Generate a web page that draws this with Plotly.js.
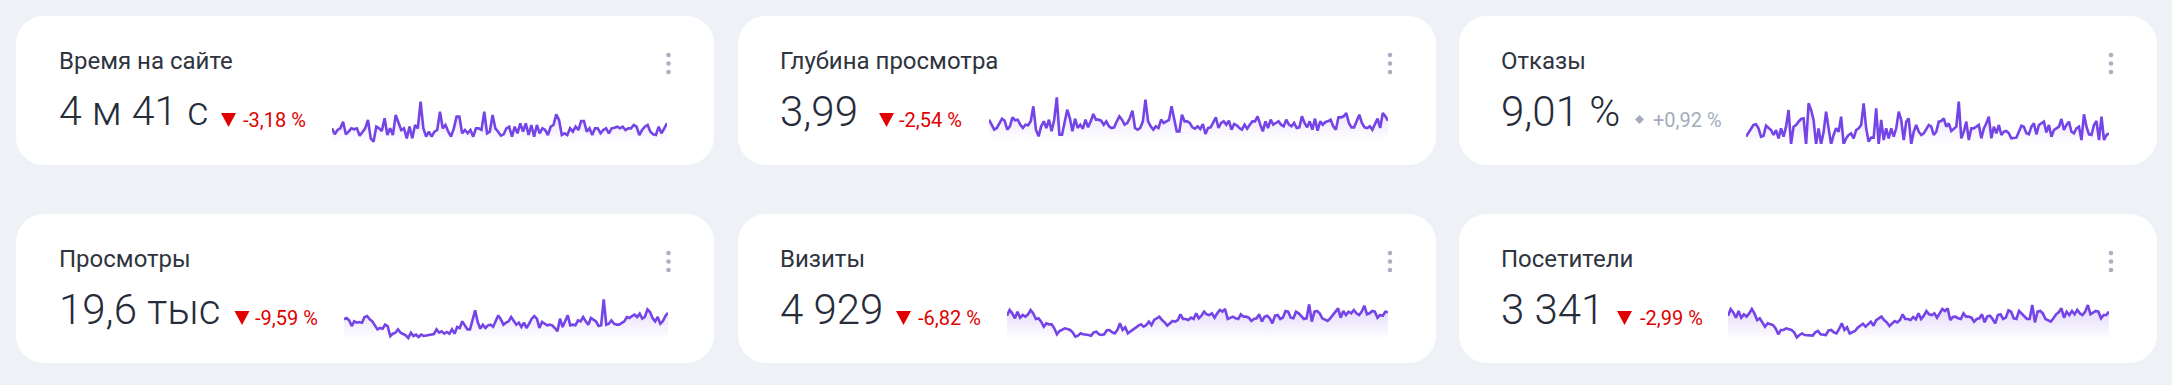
<!DOCTYPE html>
<html><head><meta charset="utf-8">
<script src="https://cdn.plot.ly/plotly-3.0.1.min.js"></script>
<style>html,body{margin:0;padding:0;background:#eef1f6;overflow:hidden}#chart{width:2172px;height:385px}</style>
</head><body><div id="chart"></div>
<script>
// ---------- DATA ----------
const metricNames = ["Время на сайте", "Глубина просмотра", "Отказы", "Просмотры", "Визиты", "Посетители"];
const metricValues = ["4 м 41 с", "3,99", "9,01 %", "19,6 тыс", "4 929", "3 341"];
const metricChanges = ["-3,18 %", "-2,54 %", "+0,92 %", "-9,59 %", "-6,82 %", "-2,99 %"];
const changeDirections = ["down", "down", "flat", "down", "down", "down"];

// time on site, seconds per day
const timeOnSite = [280,244,270,280,320,244,260,280,274,280,236,260,280,330,220,200,290,280,264,340,240,280,240,360,320,270,280,220,290,220,300,280,440,280,230,260,230,260,270,380,280,300,260,230,280,350,350,250,270,250,270,230,280,280,270,380,250,260,360,280,260,236,244,280,290,230,290,250,310,260,310,240,300,230,300,250,280,270,240,290,300,364,330,240,250,240,280,260,290,270,324,324,260,280,240,280,280,250,270,280,250,280,284,290,280,290,270,280,280,300,290,240,270,290,300,260,244,240,290,250,280,310];
// page depth per day
const pageDepth = [4.10,3.80,3.50,3.60,3.90,4.16,4.04,3.50,3.70,4.24,4.06,4.10,3.80,3.60,3.80,3.76,4.00,4.90,3.50,3.10,3.70,4.00,3.60,4.10,3.40,4.10,5.44,3.20,3.20,4.00,4.70,4.20,3.40,4.16,3.60,3.80,3.56,4.10,3.64,4.00,4.44,4.10,4.10,4.04,3.80,4.00,3.70,3.60,3.64,4.00,4.30,4.10,3.80,3.90,4.20,4.64,3.60,3.50,3.60,4.00,5.30,4.00,3.70,3.50,3.70,3.60,4.10,3.90,4.00,4.08,4.90,4.10,3.40,3.40,4.40,4.00,4.00,3.90,3.64,3.56,3.70,3.54,3.84,3.24,3.60,3.64,3.90,4.24,3.60,3.90,4.00,3.80,4.04,3.50,3.84,3.76,3.60,3.50,3.80,3.56,3.80,4.00,4.00,4.30,3.80,3.40,4.00,3.60,4.10,3.80,3.90,4.00,3.80,3.70,4.10,3.80,3.70,3.90,3.60,3.64,4.30,3.90,3.64,4.00,3.50,4.16,3.44,4.00,3.80,3.96,4.00,4.10,3.70,3.50,4.24,4.24,4.30,4.50,3.90,3.64,3.64,4.00,4.40,3.90,3.64,3.60,3.70,3.50,3.80,4.16,3.60,4.50,4.30,4.04];
// bounce rate, %
const bounceRate = [7.5,8.8,10.0,11.0,11.2,10.0,7.5,7.8,10.8,10.0,9.5,8.0,9.5,7.0,10.0,7.5,10.5,15.5,5.2,10.5,11.0,12.0,12.8,13.0,5.2,17.5,15.5,12.5,5.2,10.0,5.2,9.0,15.0,10.0,5.2,8.0,10.0,9.0,13.5,5.2,7.0,8.0,8.5,7.0,9.5,10.0,11.0,17.5,10.0,6.0,7.2,7.2,16.0,5.2,12.5,6.5,10.0,7.0,10.0,7.5,10.0,15.0,12.5,6.5,12.0,13.0,5.2,9.0,11.0,9.0,8.0,8.5,10.0,11.0,10.5,8.0,9.0,12.0,12.2,13.0,10.5,11.5,9.2,10.0,10.5,18.0,7.0,9.0,12.0,6.5,10.0,10.0,10.5,11.0,7.0,10.0,11.5,13.5,7.0,10.5,8.5,11.0,8.0,9.0,9.2,8.5,7.0,7.0,7.2,9.0,10.8,10.5,8.5,8.2,10.5,11.5,8.2,11.0,11.5,12.0,8.8,11.0,7.5,9.5,10.0,10.5,12.8,9.5,11.0,12.0,9.0,8.5,10.0,10.5,6.5,14.2,10.5,8.2,8.0,11.0,12.2,6.5,13.5,6.5,8.0,8.5];
// pageviews per day
const pageviews = [118,122,115,98,112,108,110,108,125,128,118,112,100,88,92,90,102,97,68,75,78,88,78,75,70,62,78,68,72,65,72,68,70,72,72,74,88,78,82,75,80,75,88,75,95,92,112,100,88,88,120,145,110,90,102,92,100,102,96,112,130,118,102,108,112,125,112,102,108,95,108,92,105,120,128,120,92,110,105,100,102,100,92,82,120,95,112,130,100,102,100,115,112,125,112,102,122,118,112,98,100,178,102,105,115,105,102,102,108,112,125,122,128,132,125,135,120,125,148,140,122,112,125,105,112,128,138];
// visits per day
const visits = [37.6,41.0,39.0,36.0,40.0,36.4,38.0,37.0,38.4,41.0,39.0,35.6,36.0,34.0,31.0,33.0,32.4,32.4,30.0,26.4,28.4,29.0,30.0,29.6,29.0,27.6,25.0,25.6,27.0,26.4,26.4,26.0,25.6,27.6,28.0,26.4,26.0,26.4,28.8,29.0,27.6,27.0,29.0,33.0,29.0,30.6,27.0,28.0,29.0,30.4,31.6,32.4,31.0,32.0,34.0,32.0,35.0,36.0,37.0,35.0,33.6,31.6,33.0,34.4,34.0,35.0,38.4,35.6,35.6,35.0,36.4,35.6,39.0,36.0,37.6,40.0,38.4,38.0,39.0,36.4,39.0,41.0,40.0,41.6,35.6,36.4,37.0,36.0,35.6,38.4,37.0,37.0,36.4,34.4,35.6,36.0,38.4,34.0,37.0,37.6,36.0,33.0,37.6,38.0,35.6,36.4,40.4,40.0,36.4,36.0,40.0,39.0,37.6,35.6,36.0,44.4,34.0,40.0,40.4,39.0,36.0,35.0,34.4,36.0,38.0,39.6,42.0,36.4,40.4,38.0,40.0,39.0,41.0,39.0,38.0,40.0,43.6,38.4,39.0,40.4,40.0,36.4,38.0,37.6,40.0,39.6];
// visitors per day
const visitors = [27.25,29.75,28.5,26.5,29.0,26.5,27.75,26.9,28.1,29.75,28.1,25.6,26.25,24.75,23.1,24.4,24.0,23.75,22.5,20.25,21.9,21.9,22.5,22.25,21.9,21.0,19.1,20.0,20.6,20.0,20.0,19.75,19.75,21.0,21.5,20.25,20.0,20.0,21.75,21.9,21.0,20.6,22.25,24.4,21.9,22.9,20.6,21.0,21.5,22.75,23.5,24.25,23.1,24.0,25.0,23.5,25.6,26.25,26.9,25.6,24.75,23.4,24.4,25.25,24.75,25.6,27.75,26.0,26.0,25.6,26.75,25.9,28.1,26.0,27.25,29.0,27.75,27.5,28.1,26.5,28.1,29.75,29.0,30.0,25.6,26.75,26.9,26.25,26.0,28.1,26.9,26.9,26.5,25.0,26.0,26.25,27.75,24.75,27.0,27.25,26.0,24.4,27.5,27.75,26.0,26.5,29.25,28.75,26.25,26.0,29.0,28.1,27.25,26.0,26.0,31.25,24.75,28.75,29.0,28.1,26.0,25.6,25.0,26.25,27.75,28.5,30.0,26.5,28.75,27.5,29.0,27.75,29.4,28.1,27.5,28.75,31.25,27.75,28.5,29.0,28.75,26.25,27.5,27.5,28.75];

const seriesList = [timeOnSite, pageDepth, bounceRate, pageviews, visits, visitors];

// ---------- LAYOUT CONSTANTS (pixels) ----------
const W = 2172, H = 385;
const cardLeft = [16, 738, 1459];
const cardTop = [16, 214];
const cardW = 698, cardH = 149, cardR = 28;
const rowShift = 198;
const textX = [57, 778, 1499];
const markerX = [221, 879, 1635, 234.5, 896, 1617];
const changeX = [241, 897, 1651, 253, 916, 1638];
const valueSize = [41, 42, 42, 42, 42, 42];
const dotsX = [668.5, 1390, 2111];
const sparkX = [[332,667],[989,1388],[1746,2109],[344,668],[1007,1388],[1728,2109]];
const sparkY = [[95,143],[88,141],[95,144],[292,340],[295,340],[295,340]];
const yRanges = [[192,480],[2.82,6.0],[5.3,20],[56,200],[23,50],[18.125,35]];

const LINE = '#7444e6';
const RED = '#e00000';
const GRAY = '#a5acbb';

const px = v => v / W;
const py = v => 1 - v / H;

function roundedRect(x0, y0, x1, y1, r) {
  const k = 0.5523 * r;
  const P = (x, y) => px(x).toFixed(6) + ',' + py(y).toFixed(6);
  return 'M' + P(x0 + r, y0) + ' L' + P(x1 - r, y0) +
    ' C' + P(x1 - r + k, y0) + ' ' + P(x1, y0 + r - k) + ' ' + P(x1, y0 + r) +
    ' L' + P(x1, y1 - r) +
    ' C' + P(x1, y1 - r + k) + ' ' + P(x1 - r + k, y1) + ' ' + P(x1 - r, y1) +
    ' L' + P(x0 + r, y1) +
    ' C' + P(x0 + r - k, y1) + ' ' + P(x0, y1 - r + k) + ' ' + P(x0, y1 - r) +
    ' L' + P(x0, y0 + r) +
    ' C' + P(x0, y0 + r - k) + ' ' + P(x0 + r - k, y0) + ' ' + P(x0 + r, y0) + ' Z';
}

const shapes = [];
const annotations = [];
const traces = [];
const layout = {
  width: W, height: H,
  margin: {l: 0, r: 0, t: 0, b: 0, pad: 0},
  paper_bgcolor: '#eef1f6',
  plot_bgcolor: 'rgba(0,0,0,0)',
  showlegend: false,
  hovermode: false,
  font: {family: 'Roboto, "Noto Sans", sans-serif', color: '#2c313d'}
};

for (let i = 0; i < 6; i++) {
  const row = Math.floor(i / 3), col = i % 3;
  const dy = row * rowShift;
  // card
  shapes.push({type: 'path', xref: 'paper', yref: 'paper', layer: 'below',
    path: roundedRect(cardLeft[col], cardTop[row], cardLeft[col] + cardW, cardTop[row] + cardH, cardR),
    fillcolor: '#ffffff', line: {width: 0}});
  // menu dots
  [55, 63.5, 72].forEach(cy => {
    const r = 2.3;
    shapes.push({type: 'circle', xref: 'paper', yref: 'paper', layer: 'above',
      x0: px(dotsX[col] - r), x1: px(dotsX[col] + r), y0: py(cy + dy + r), y1: py(cy + dy - r),
      fillcolor: '#a9b0bf', line: {width: 0}});
  });
  // title
  annotations.push({xref: 'paper', yref: 'paper', x: px(textX[col]), y: py(61 + dy),
    xanchor: 'left', yanchor: 'middle', showarrow: false, text: metricNames[i],
    font: {family: 'Roboto', size: 24, color: '#2f3440'}});
  // value
  annotations.push({xref: 'paper', yref: 'paper', x: px(textX[col]), y: py(111 + dy),
    xanchor: 'left', yanchor: 'middle', showarrow: false, text: metricValues[i],
    font: {family: 'Roboto', size: valueSize[i], weight: 300, color: '#272c3a'}});
  // change marker
  const dirDown = changeDirections[i] === 'down';
  const mx = markerX[i];
  if (dirDown) {
    const t = 113 + dy, b = 127 + dy;
    shapes.push({type: 'path', xref: 'paper', yref: 'paper', layer: 'above',
      path: 'M' + px(mx) + ',' + py(t) + ' L' + px(mx + 15) + ',' + py(t) + ' L' + px(mx + 7.5) + ',' + py(b) + ' Z',
      fillcolor: RED, line: {width: 0}});
  } else {
    const cx = mx + 4.5, cy = 119.5 + dy, s = 4.5;
    shapes.push({type: 'path', xref: 'paper', yref: 'paper', layer: 'above',
      path: 'M' + px(cx) + ',' + py(cy - s) + ' L' + px(cx + s) + ',' + py(cy) + ' L' + px(cx) + ',' + py(cy + s) + ' L' + px(cx - s) + ',' + py(cy) + ' Z',
      fillcolor: GRAY, line: {width: 0}});
  }
  annotations.push({xref: 'paper', yref: 'paper', x: px(changeX[i]), y: py(120 + dy),
    xanchor: 'left', yanchor: 'middle', showarrow: false, text: metricChanges[i],
    font: {family: 'Roboto', size: 20, color: dirDown ? RED : GRAY}});

  // sparkline
  const s = seriesList[i];
  const n = s.length;
  const sfx = i === 0 ? '' : String(i + 1);
  layout['xaxis' + sfx] = {domain: [px(sparkX[i][0]), px(sparkX[i][1])], range: [0, n - 1],
    visible: false, fixedrange: true, anchor: 'y' + sfx};
  layout['yaxis' + sfx] = {domain: [py(sparkY[i][1]), py(sparkY[i][0])], range: yRanges[i],
    visible: false, fixedrange: true, anchor: 'x' + sfx};
  traces.push({type: 'scatter', mode: 'lines', y: s, xaxis: 'x' + sfx, yaxis: 'y' + sfx,
    line: {color: LINE, width: 2.6},
    fill: 'tozeroy',
    fillgradient: {type: 'vertical', start: yRanges[i][0], stop: Math.max(...s),
      colorscale: [[0, 'rgba(118,70,230,0)'], [1, 'rgba(118,70,230,0.22)']]},
    hoverinfo: 'skip'});
}
layout.shapes = shapes;
layout.annotations = annotations;

Plotly.newPlot('chart', traces, layout, {staticPlot: true, displayModeBar: false});
</script>
</body></html>
